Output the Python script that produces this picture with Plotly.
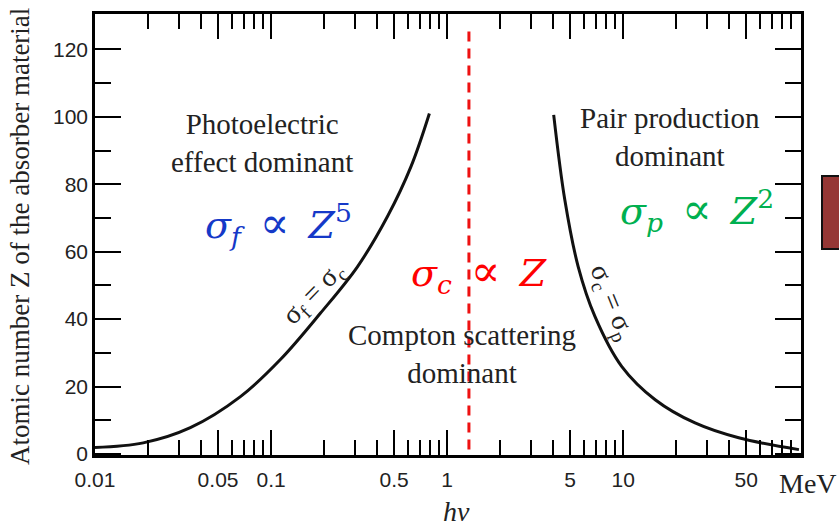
import plotly.graph_objects as go

# ---- data ----
# boundary sigma_f = sigma_c (photoelectric / Compton)
fc_energy = [0.01, 0.0188, 0.0348, 0.067, 0.113, 0.191, 0.31, 0.459, 0.624, 0.793]
fc_z = [1.9, 3.3, 7.8, 17.0, 28.0, 41.8, 55.6, 70.5, 85.3, 101.0]
# boundary sigma_c = sigma_p (Compton / pair production)
cp_energy = [4.03, 4.66, 5.55, 6.91, 9.8, 15.2, 25.6, 45.3, 99.6]
cp_z = [100.6, 75.4, 55.6, 40.8, 26.0, 16.1, 9.2, 4.8, 1.3]
# red dashed marker line
marker_energy = [1.33, 1.33]
marker_z = [1.3, 126.4]

x_major = [0.01, 0.05, 0.1, 0.5, 1, 5, 10, 50]
x_major_labels = ["0.01", "0.05", "0.1", "0.5", "1", "5", "10", "50"]
x_minor = [0.02, 0.03, 0.04, 0.06, 0.07, 0.08, 0.09,
           0.2, 0.3, 0.4, 0.6, 0.7, 0.8, 0.9,
           2, 3, 4, 6, 7, 8, 9,
           20, 30, 40, 60, 70, 80, 90]
y_major = [0, 20, 40, 60, 80, 100, 120]
y_minor = [10, 30, 50, 70, 90, 110]

# ---- layout geometry (pixels) ----
WIDTH, HEIGHT = 839, 527
L, R, T, B = 95, 801, 14, 455
PW, PH = R - L, B - T


def px(x):
    return (x - L) / PW


def py(y):
    return (B - y) / PH


fig = go.Figure()
fig.add_trace(go.Scatter(x=fc_energy, y=fc_z, mode="lines", line=dict(color="#111", width=3, shape="spline"),
                         hoverinfo="skip", showlegend=False))
fig.add_trace(go.Scatter(x=cp_energy, y=cp_z, mode="lines", line=dict(color="#111", width=3, shape="spline"),
                         hoverinfo="skip", showlegend=False))
fig.add_trace(go.Scatter(x=marker_energy, y=marker_z, mode="lines",
                         line=dict(color="#ee1111", width=3, dash="10px,7px"),
                         hoverinfo="skip", showlegend=False))

serif = "Liberation Serif"
math = "DejaVu Serif"
SP = "\u2002"
PROP = '<span style="font-size:44px">∝</span>'
ann = []


def add(text, x, y, size, color="#222", family=serif, angle=0):
    ann.append(dict(text=text, x=px(x), y=py(y), xref="paper", yref="paper", showarrow=False,
                    xanchor="center", yanchor="middle", textangle=angle,
                    font=dict(family=family, size=size, color=color)))


add("Photoelectric<br>effect dominant", 262, 143, 29)
add("Pair production<br>dominant", 670, 137, 29)
add("Compton scattering<br>dominant", 462, 354, 29)
add(f"<i>σ<sub>f</sub></i>{SP}{PROP}{SP}<i>Z</i><sup>5</sup>", 278, 224, 38, color="#1539c8", family=math)
add(f"<i>σ<sub>c</sub></i>{SP}{PROP}{SP}<i>Z</i>", 479, 272, 38, color="#ff0000", family=math)
add(f"<i>σ<sub>p</sub></i>{SP}{PROP}{SP}<i>Z</i><sup>2</sup>", 697, 210, 38, color="#00b050", family=math)
add("σ<sub>f</sub> = σ<sub>c</sub>", 314, 293, 28, angle=-46)
add("σ<sub>c</sub> = σ<sub>p</sub>", 612, 302, 28, angle=68)
add("MeV", 808, 483, 28)
add("<i>hν</i>", 457, 511, 28)
add("Atomic number Z of the absorber material", 20, 237, 27, angle=-90)

fig.update_layout(
    width=WIDTH, height=HEIGHT,
    margin=dict(l=L, r=WIDTH - R, t=T, b=HEIGHT - B, pad=0),
    paper_bgcolor="white", plot_bgcolor="white",
    annotations=ann,
    shapes=[dict(type="rect", xref="paper", yref="paper",
                 x0=px(822), x1=px(850), y0=py(249), y1=py(176),
                 fillcolor="#953735", line=dict(color="#111", width=2))],
    xaxis=dict(type="log", range=[-2, 2.01], showgrid=False, zeroline=False,
               showline=True, linecolor="black", linewidth=2.5, mirror="ticks",
               ticks="inside", ticklen=25, tickwidth=2, tickcolor="black",
               tickmode="array", tickvals=x_major, ticktext=x_major_labels,
               ticklabelstandoff=4,
               tickfont=dict(family="Liberation Sans", size=21, color="#222"),
               minor=dict(tickmode="array", tickvals=x_minor, ticks="inside", ticklen=15,
                          tickwidth=2, tickcolor="black", showgrid=False)),
    yaxis=dict(range=[-0.3, 130.5], showgrid=False, zeroline=False,
               showline=True, linecolor="black", linewidth=2.5, mirror="ticks",
               ticks="inside", ticklen=26, tickwidth=2, tickcolor="black",
               tickmode="array", tickvals=y_major,
               tickfont=dict(family="Liberation Sans", size=21, color="#222"),
               minor=dict(tickmode="array", tickvals=y_minor, ticks="inside", ticklen=16,
                          tickwidth=2, tickcolor="black", showgrid=False)),
)

fig.write_html("out.html")
